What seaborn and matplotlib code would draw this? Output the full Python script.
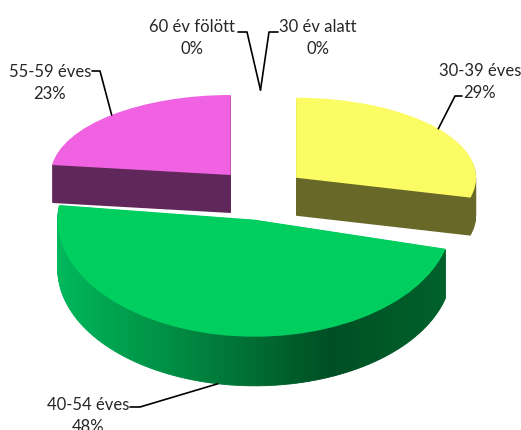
import numpy as np
import matplotlib
matplotlib.use("Agg")
import matplotlib.pyplot as plt
from matplotlib.colors import LinearSegmentedColormap
from matplotlib.lines import Line2D
import seaborn as sns

# age groups, in the order Excel draws them (clockwise from 12 o'clock)
groups = ['30 év alatt', '30-39 éves', '40-54 éves', '55-59 éves', '60 év fölött']
shares = [0, 29, 48, 23, 0]
top_colors = ['#ffffff', '#fbfb64', '#00cf60', '#f062e2', '#ffffff']
side_colors = ['#ffffff', '#686828', '#00a050', '#60285a', '#ffffff']
explode = [0.25, 0.25, 0.25, 0.25, 0.25]

back = [1, 3]     # slices behind
front = [2]       # slice in front

sns.set_style('white')
plt.rcParams['font.family'] = ['Lato', 'DejaVu Sans']

W, H = 521, 430
fig = plt.figure(figsize=(W / 100, H / 100), dpi=100)
ax_back = fig.add_axes([0, 0, 1, 1])
ax_front = fig.add_axes([0, 0, 1, 1])

total = sum(shares)
edges = np.cumsum([0] + shares) / total
mids = (edges[:-1] + edges[1:]) / 2


def rim(frac, r):
    a = 2 * np.pi * frac
    return np.array([np.sin(a), np.cos(a)]) * r


def only(idx, cols):
    return [c if i in idx else 'none' for i, c in enumerate(cols)]


# back slices: stacked layers for the side, then the top face
depth_b, n_b = 0.475, 45
for k in range(n_b, 0, -1):
    ax_back.pie(shares, colors=only(back, side_colors), explode=explode,
                startangle=90, counterclock=False,
                center=(0, -depth_b * k / n_b), wedgeprops=dict(linewidth=0))
ax_back.pie(shares, colors=only(back, top_colors), explode=explode,
            startangle=90, counterclock=False, wedgeprops=dict(linewidth=0))

# front slice: side with a left-to-right shade, then the top face
depth_f, n_f, m = 0.42, 55, 90
g0, g1 = edges[2], edges[3]
sub = np.full(m, (g1 - g0) / m)
sub_mid = g0 + (np.arange(m) + 0.5) * (g1 - g0) / m
shade = LinearSegmentedColormap.from_list(
    'side', [(0, '#00b85c'), (0.35, '#00843f'), (0.69, '#004f24'), (1, '#00622c')])
sub_colors = shade((np.sin(2 * np.pi * sub_mid) + 1) / 2)
off = rim(mids[2], explode[2])
for k in range(n_f, 0, -1):
    wedges, _ = ax_front.pie(sub, colors=sub_colors, normalize=False,
                             startangle=90 - 360 * g0, counterclock=False,
                             center=(off[0], off[1] - depth_f * k / n_f))
    for w in wedges:
        w.set_edgecolor(w.get_facecolor())
        w.set_linewidth(0.6)
ax_front.pie(shares, colors=only(front, top_colors), explode=explode,
             startangle=90, counterclock=False, wedgeprops=dict(linewidth=0))

ax_back.set_xlim(-1.447, 1.447)
ax_back.set_ylim(-3.0, 2.375)
ax_front.set_xlim(-1.340, 1.305)
ax_front.set_ylim(-2.043, 1.632)
for ax in (ax_back, ax_front):
    ax.set_aspect('auto')
    ax.axis('off')
ax_front.patch.set_alpha(0)


# data labels with leader lines
def px(x, y):
    return x / W, 1 - y / H


def to_fig(ax, xy):
    return fig.transFigure.inverted().transform(ax.transData.transform(xy))


label_pos = [(318, 38), (480, 82), (88, 416), (50, 83), (192, 38)]
label_tick = [((278, 32), (269, 32)), ((462, 96), (455, 96)),
              ((130, 407), (140, 407)), ((92, 71), (100, 71)),
              ((238, 32), (247, 32))]
label_ax = [ax_back, ax_back, ax_front, ax_back, ax_back]

for i, name in enumerate(groups):
    txt = f"{name}\n{round(100 * shares[i] / total)}%"
    fig.text(*px(*label_pos[i]), txt, ha='center', va='center',
             multialignment='center', fontsize=12, linespacing=1.45,
             color='#262626')
    target = rim(mids[i], 1 + explode[i])
    if i in front:
        target = target + np.array([0, -depth_f])
    a, b = label_tick[i]
    pts = [px(*a), px(*b), tuple(to_fig(label_ax[i], target))]
    xs, ys = zip(*pts)
    fig.add_artist(Line2D(xs, ys, transform=fig.transFigure,
                          color='black', lw=1.2))

plt.savefig('out.png', dpi=100)
